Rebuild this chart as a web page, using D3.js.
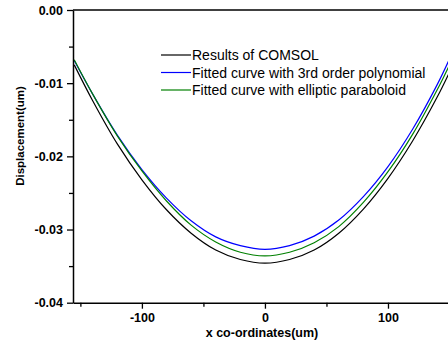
<!DOCTYPE html>
<html>
<head>
<meta charset="utf-8">
<script src="https://cdn.jsdelivr.net/npm/d3@7/dist/d3.min.js"></script>
<style>
  body { margin: 0; background: #fff; }
  svg { display: block; font-family: "Liberation Sans", Arial, sans-serif; }
  .axis text { font-size: 12.5px; font-weight: bold; fill: #000; }
</style>
</head>
<body>
<div id="chart"></div>
<script>
// x positions (um) and displacement values (um)
const xs = [-155, -140, -120, -100, -80, -60, -40, -20, 0, 20, 40, 60, 80, 100, 120, 140, 150];
const comsol = [-0.0075, -0.0124, -0.0183, -0.0232, -0.0273, -0.0305, -0.0328, -0.0341, -0.0346,
  -0.0341, -0.0328, -0.0305, -0.0272, -0.0230, -0.0179, -0.0119, -0.0085];
const poly3 = [-0.0069, -0.0115, -0.0171, -0.0218, -0.0257, -0.0288, -0.0310, -0.0322, -0.0327,
  -0.0322, -0.0309, -0.0287, -0.0255, -0.0214, -0.0163, -0.0102, -0.0067];
const elliptic = [-0.0068, -0.0115, -0.0172, -0.0220, -0.0261, -0.0294, -0.0317, -0.0331, -0.0336,
  -0.0331, -0.0318, -0.0296, -0.0263, -0.0221, -0.0170, -0.0109, -0.0075];

const seriesNames = ['Results of COMSOL', 'Fitted curve with 3rd order polynomial', 'Fitted curve with elliptic paraboloid'];
const seriesColors = ['#000000', '#0000ff', '#008000'];
const seriesValues = [comsol, poly3, elliptic];

const xMajor = [-100, 0, 100];
const xMinor = [-150, -50, 50, 150];
const yMajor = [0, -0.01, -0.02, -0.03, -0.04];
const yMinor = [-0.005, -0.015, -0.025, -0.035];

const width = 448, height = 343;
const plotLeft = 73, plotTop = 10, plotRight = 449.5, plotBottom = 302.7;

const svg = d3.select('#chart').append('svg')
  .attr('width', width)
  .attr('height', height);

const x = d3.scaleLinear().domain([-156, 150]).range([plotLeft, plotRight]);
const y = d3.scaleLinear().domain([-0.04, 0]).range([plotBottom, plotTop]);

// plain hyphen minus like the original
const hyphen = f => d => f(d).replace('\u2212', '-');

// curves
const line = d3.line()
  .x((d, i) => x(xs[i]))
  .y(d => y(d))
  .curve(d3.curveCatmullRom);

seriesValues.forEach((vals, k) => {
  svg.append('path')
    .attr('d', line(vals))
    .attr('fill', 'none')
    .attr('stroke', seriesColors[k])
    .attr('stroke-width', 1.2);
});

// axes
svg.append('g')
  .attr('class', 'axis')
  .attr('transform', `translate(0,${plotBottom})`)
  .call(d3.axisBottom(x).tickValues(xMajor).tickSize(6).tickSizeOuter(0).tickPadding(4).tickFormat(hyphen(d3.format('d'))))
  .call(g => g.select('.domain').attr('stroke-width', 1.5))
  .call(g => g.selectAll('.tick line').attr('stroke-width', 1.3));

svg.append('g')
  .attr('transform', `translate(0,${plotBottom})`)
  .call(d3.axisBottom(x).tickValues(xMinor).tickSize(4).tickSizeOuter(0).tickFormat(''))
  .call(g => g.select('.domain').remove())
  .call(g => g.selectAll('.tick line').attr('stroke-width', 1.3));

svg.append('g')
  .attr('class', 'axis')
  .attr('transform', `translate(${plotLeft},0)`)
  .call(d3.axisLeft(y).tickValues(yMajor).tickSize(6).tickSizeOuter(0).tickPadding(4).tickFormat(hyphen(d3.format('.2f'))))
  .call(g => g.select('.domain').attr('stroke-width', 1.5))
  .call(g => g.selectAll('.tick line').attr('stroke-width', 1.3));

svg.append('g')
  .attr('transform', `translate(${plotLeft},0)`)
  .call(d3.axisLeft(y).tickValues(yMinor).tickSize(4).tickSizeOuter(0).tickFormat(''))
  .call(g => g.select('.domain').remove())
  .call(g => g.selectAll('.tick line').attr('stroke-width', 1.3));

// top frame line
svg.append('line')
  .attr('x1', plotLeft).attr('x2', width)
  .attr('y1', plotTop).attr('y2', plotTop)
  .attr('stroke', '#000')
  .attr('stroke-width', 1.5);

// axis titles
svg.append('text')
  .attr('x', 262).attr('y', 337)
  .attr('text-anchor', 'middle')
  .style('font-size', '12.5px').style('font-weight', 'bold')
  .text('x co-ordinates(um)');

svg.append('text')
  .attr('transform', 'translate(24,136) rotate(-90)')
  .attr('text-anchor', 'middle')
  .style('font-size', '11.5px').style('font-weight', 'bold')
  .text('Displacement(um)');

// legend
const legend = svg.append('g').attr('transform', 'translate(161,55)');
seriesNames.forEach((name, k) => {
  const row = legend.append('g').attr('transform', `translate(0,${k * 17.5})`);
  row.append('line')
    .attr('x1', 0).attr('x2', 30)
    .attr('stroke', seriesColors[k])
    .attr('stroke-width', 1.2);
  row.append('text')
    .attr('x', 31).attr('y', 5)
    .style('font-size', '14px')
    .text(name);
});
</script>
</body>
</html>
